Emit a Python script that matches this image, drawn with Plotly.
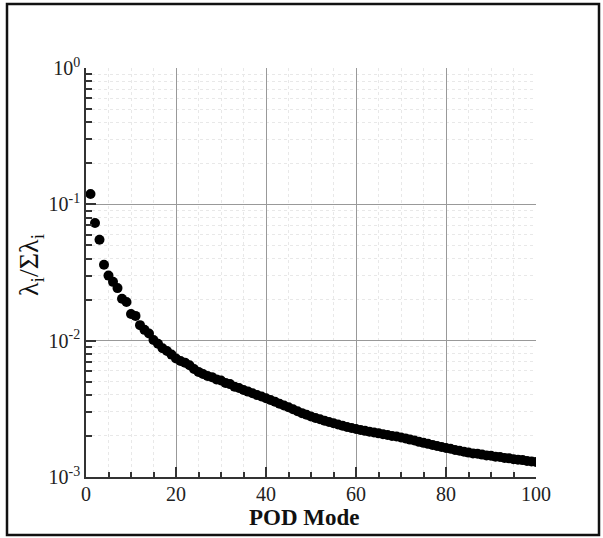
import plotly.graph_objects as go

modes = list(range(1, 101))
ratio = [
    0.119, 0.073, 0.055, 0.036, 0.030, 0.027, 0.0243, 0.0203, 0.0192, 0.0157,
    0.0152, 0.0130, 0.0120, 0.0113, 0.0101, 0.0095, 0.0088, 0.0084, 0.0079, 0.0074,
    0.0071, 0.0069, 0.0066, 0.0062, 0.0059, 0.0057, 0.0055, 0.0054, 0.0052, 0.0051,
    0.0049, 0.0048, 0.0046, 0.0045, 0.00435, 0.00423, 0.00411, 0.00400, 0.00389, 0.00378,
    0.00367, 0.00356, 0.00345, 0.00335, 0.00325, 0.00314, 0.00304, 0.00294, 0.00286, 0.00278,
    0.00271, 0.00265, 0.00259, 0.00253, 0.00248, 0.00243, 0.00238, 0.00233, 0.00229, 0.00225,
    0.00221, 0.00218, 0.00215, 0.00212, 0.00209, 0.00206, 0.00203, 0.00200, 0.00198, 0.00195,
    0.00192, 0.00188, 0.00185, 0.00181, 0.00178, 0.00175, 0.00172, 0.00169, 0.00166, 0.00163,
    0.00161, 0.00158, 0.00156, 0.00153, 0.00151, 0.00149, 0.00148, 0.00146, 0.00144, 0.00143,
    0.00141, 0.00140, 0.00138, 0.00137, 0.00135, 0.00134, 0.00133, 0.00131, 0.00130, 0.00129,
]

x_ticks = [0, 20, 40, 60, 80, 100]
x_minor = [v for v in range(0, 101, 5) if v % 20 != 0]
y_ticks = [1e-3, 1e-2, 1e-1, 1e0]
y_ticktext = ["10<sup>-3</sup>", "10<sup>-2</sup>", "10<sup>-1</sup>", "10<sup>0</sup>"]
y_minor = [m * 10.0 ** e for e in (-3, -2, -1) for m in range(2, 10)]

FONT = "Liberation Serif"

fig = go.Figure()
fig.add_trace(go.Scatter(
    x=modes, y=ratio, mode="markers",
    marker=dict(color="black", size=10, line=dict(width=0)),
    showlegend=False,
))

W, H = 603, 538
L, R, T, B = 86, 67, 68, 61
pw, ph = W - L - R, H - T - B

def px(xp):
    return (xp - L) / pw

def py(yp):
    return (H - B - yp) / ph

fig.update_layout(
    width=W, height=H, autosize=False,
    margin=dict(l=L, r=R, t=T, b=B),
    paper_bgcolor="white", plot_bgcolor="white",
    font=dict(family=FONT, color="black", size=20),
    xaxis=dict(
        range=[0, 100], tickvals=x_ticks, ticks="inside", ticklen=10, tickwidth=1.5,
        tickcolor="#333", showline=True, linecolor="#333", linewidth=1.5, mirror=False,
        showgrid=True, gridcolor="#999999", gridwidth=1, zeroline=False,
        tickfont=dict(family=FONT, size=20, color="#222"), ticklabelstandoff=-2,
        minor=dict(tickvals=x_minor, ticks="inside", ticklen=5, tickcolor="#333",
                   showgrid=True, gridcolor="#e8e8e8", griddash="dot", gridwidth=1),
    ),
    yaxis=dict(
        type="log", range=[-3, 0], tickvals=y_ticks, ticktext=y_ticktext,
        ticks="inside", ticklen=10, tickwidth=1.5, tickcolor="#333",
        showline=True, linecolor="#333", linewidth=1.5, mirror=False,
        showgrid=True, gridcolor="#999999", gridwidth=1, zeroline=False,
        tickfont=dict(family=FONT, size=20, color="#222"),
        minor=dict(tickvals=y_minor, ticks="inside", ticklen=6, tickcolor="#333",
                   showgrid=True, gridcolor="#e8e8e8", griddash="dot", gridwidth=1),
    ),
    annotations=[
        dict(text="<b>POD Mode</b>", xref="paper", yref="paper",
             x=px(304), y=py(517), xanchor="center", yanchor="middle",
             showarrow=False, font=dict(family=FONT, size=23, color="#111")),
        dict(text="λ<sub>i</sub>/Σλ<sub>i</sub>", xref="paper", yref="paper",
             x=px(30), y=py(265), xanchor="center", yanchor="middle", textangle=-90,
             showarrow=False, font=dict(family=FONT, size=28, color="#111")),
    ],
    shapes=[
        dict(type="rect", xref="paper", yref="paper",
             x0=px(7), x1=px(599), y0=py(535), y1=py(4),
             line=dict(color="#111", width=2.5), fillcolor="rgba(0,0,0,0)", layer="above"),
    ],
)

fig.write_html(
    "out.html",
    config={"displayModeBar": False},
    post_script="document.body.style.margin='0';document.body.style.padding='0';",
)
